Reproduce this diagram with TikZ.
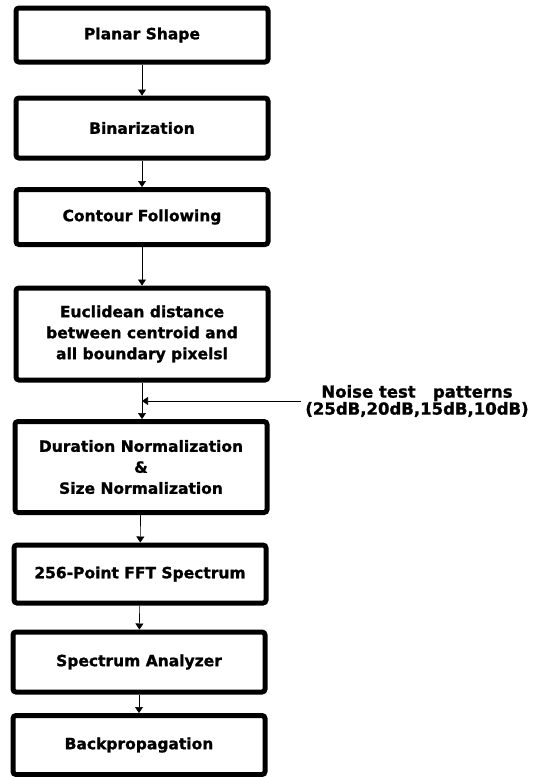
\documentclass[tikz,border=0pt]{standalone}
\usepackage{fontspec}
\setmainfont[BoldFeatures={FakeBold=1.2}]{DejaVu Sans}
\usetikzlibrary{arrows.meta}
\tikzset{blk/.style={draw, line width=5pt, rounded corners=3pt, minimum width=252pt,
    align=center, font=\bfseries\fontsize{15.5}{21}\selectfont},
  flow/.style={line width=0.6pt, -{Triangle[width=8pt,length=6pt]}}}

\begin{document}
\begin{tikzpicture}[x=1pt,y=-1pt]
	\useasboundingbox (0,0) rectangle (537,777);
	\node[blk, minimum height=54pt] (shape) at (142, 35) {Planar Shape};
	\node[blk, minimum height=60pt] (bin) at (142, 128) {Binarization};
	\node[blk, minimum height=55pt] (cont) at (142, 217) {Contour Following};
	\node[blk, minimum height=92pt] (dist) at (142, 334) {Euclidean distance\\between centroid and\\all boundary pixelsl};
	\node[blk, minimum height=91pt] (norm) at (141, 467) {Duration Normalization\\\&\\Size Normalization};
	\node[blk, minimum height=58pt] (fft) at (140, 574) {256-Point FFT Spectrum};
	\node[blk, minimum height=60pt] (spec) at (139, 662) {Spectrum Analyzer};
	\node[blk, minimum height=59pt] (bp) at (139, 745) {Backpropagation};
	\node[font=\bfseries\fontsize{16.5}{17}\selectfont, align=center, inner xsep=4pt] (noise) at (417, 401) {Noise test \ \ patterns\\(25dB,20dB,15dB,10dB)};
	\draw [flow] (shape) to (bin);
	\draw [flow] (bin) to (cont);
	\draw [flow] (cont) to (dist);
	\draw [flow] (dist.south) to (norm.north -| dist.south);
	\draw [flow] (noise.west) to (noise.west -| dist.south);
	\draw [flow] (norm) to (fft);
	\draw [flow] (fft) to (spec);
	\draw [flow] (spec) to (bp);
\end{tikzpicture}
\end{document}
